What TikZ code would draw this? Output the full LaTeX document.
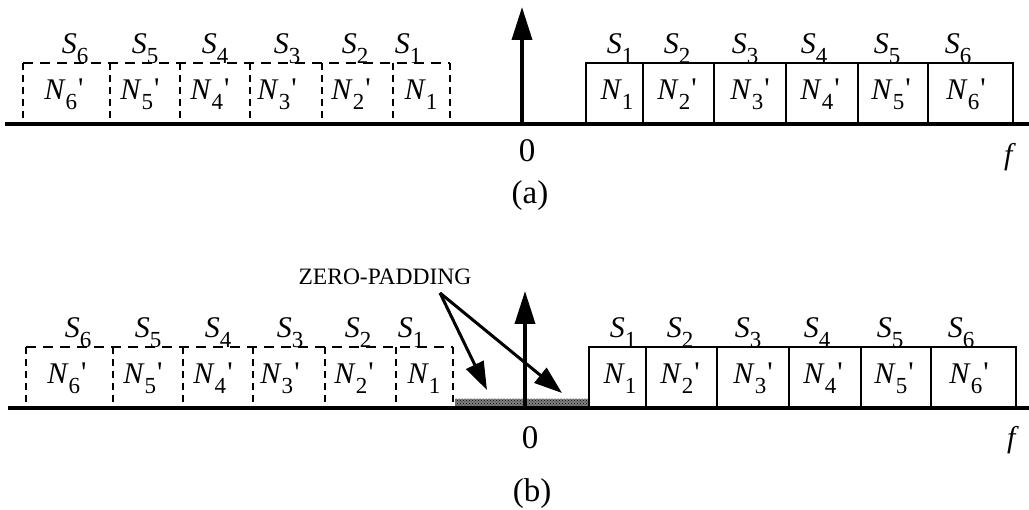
\documentclass[tikz,border=0pt]{standalone}
\usepackage{fontspec}
\newfontfamily\tms{Liberation Serif}
\usetikzlibrary{arrows.meta,patterns}
\newcommand\SL[2]{\textit{#1}\raisebox{-0.32em}{\fontsize{23}{23}\selectfont #2}}
\newcommand\NP[1]{\textit{N}\raisebox{-0.32em}{\fontsize{23}{23}\selectfont #1}\kern1pt\raisebox{0.05em}{'}}
\tikzset{
  lab/.style={font=\tms\fontsize{30}{30}\selectfont, inner sep=0pt, anchor=base},
  big/.style={font=\tms\fontsize{33}{33}\selectfont, inner sep=0pt},
  axis/.style={line width=3.2pt},
  box/.style={line width=2.6pt},
  dbox/.style={line width=2.6pt, dash pattern=on 10pt off 7pt},
  dvert/.style={line width=2.6pt, dash pattern=on 7pt off 5pt},
  impulse/.style={line width=3.6pt, -{Triangle[length=33pt,width=20pt]}},
  zparrow/.style={line width=3pt, -{Triangle[length=28pt,width=19pt]}},
}
\newcommand\panel[1]{%
  % dashed negative-frequency boxes
  \draw[dbox] (23,63) -- (450,63);
  \foreach \x in {23,110,180,250,322,393,450} \draw[dvert] (\x,63) -- (\x,124);
  % solid positive-frequency boxes
  \draw[box] (586,124) -- (586,63) -- (1013,63) -- (1013,124);
  \foreach \x in {643,714,786,858,928} \draw[box] (\x,63) -- (\x,124);
  % axis
  \draw[axis] (5,124) -- (1040,124);
  % impulse
  \coordinate (#1o) at (522,124);
  \coordinate (#1top) at (522,7);
  \draw[impulse] (#1o) -- (#1top);
  % left labels
  \node[lab] (#1ls6) at (75,54) {\SL{S}{6}};
  \node[lab] (#1ls5) at (145,54) {\SL{S}{5}};
  \node[lab] (#1ls4) at (215,54) {\SL{S}{4}};
  \node[lab] (#1ls3) at (287,54) {\SL{S}{3}};
  \node[lab] (#1ls2) at (355,54) {\SL{S}{2}};
  \node[lab] (#1ls1) at (408,54) {\SL{S}{1}};
  \node[lab] (#1ln6) at (64,100) {\NP{6}};
  \node[lab] (#1ln5) at (140,100) {\NP{5}};
  \node[lab] (#1ln4) at (210,100) {\NP{4}};
  \node[lab] (#1ln3) at (277,100) {\NP{3}};
  \node[lab] (#1ln2) at (351,100) {\NP{2}};
  \node[lab] (#1ln1) at (421,100) {\SL{N}{1}};
  % right labels
  \node[lab] (#1rs1) at (620,54) {\SL{S}{1}};
  \node[lab] (#1rs2) at (677,54) {\SL{S}{2}};
  \node[lab] (#1rs3) at (745,54) {\SL{S}{3}};
  \node[lab] (#1rs4) at (814,54) {\SL{S}{4}};
  \node[lab] (#1rs5) at (887,54) {\SL{S}{5}};
  \node[lab] (#1rs6) at (958,54) {\SL{S}{6}};
  \node[lab] (#1rn1) at (617,100) {\SL{N}{1}};
  \node[lab] (#1rn2) at (677,100) {\NP{2}};
  \node[lab] (#1rn3) at (750,100) {\NP{3}};
  \node[lab] (#1rn4) at (820,100) {\NP{4}};
  \node[lab] (#1rn5) at (891,100) {\NP{5}};
  \node[lab] (#1rn6) at (966,100) {\NP{6}};
}
\begin{document}
\begin{tikzpicture}[x=1pt,y=-1pt]
\useasboundingbox (0,0) rectangle (1029,510);
% panel (a)
\panel{a}
\node[big] (azero) at (527,151) {0};
\node[lab,anchor=center] (af) at (1010,157) {\textit{f}};
\node[big] (alab) at (530,196) {(a)};
% panel (b)
\fill[black!50] (455,399) rectangle (588,409);
\fill[pattern=crosshatch dots, pattern color=black] (455,399) rectangle (588,409);
\begin{scope}[shift={(3,284)}]
\panel{b}
\end{scope}
\node[big] (bzero) at (530,438) {0};
\node[lab,anchor=center] (bf) at (1013,440) {\textit{f}};
\node[big] (blab) at (532,494) {(b)};
\node[font=\tms\fontsize{23.5}{23.5}\selectfont, inner sep=0pt, anchor=base] (zp) at (385,285) {ZERO-PADDING};
\coordinate (zps) at (440,293);
\coordinate (zpt1) at (487,390);
\coordinate (zpt2) at (562,393);
\draw[zparrow] (zps) -- (zpt1);
\draw[zparrow] (zps) -- (zpt2);
\end{tikzpicture}
\end{document}
